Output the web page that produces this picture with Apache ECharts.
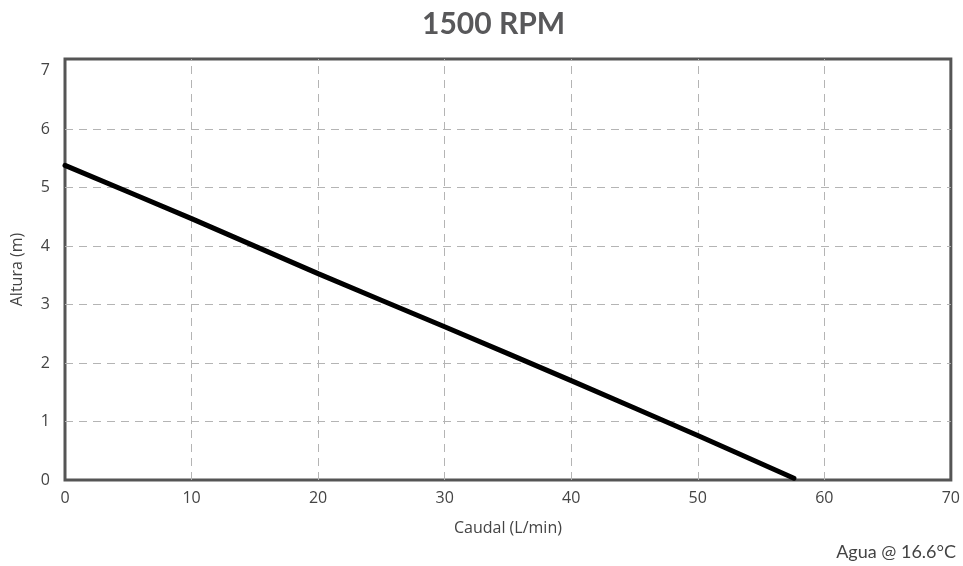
<!DOCTYPE html>
<html><head><meta charset="utf-8">
<script src="https://cdn.jsdelivr.net/npm/echarts@6/dist/echarts.min.js"></script>
<style>html,body{margin:0;padding:0;background:#fff}#c{width:963px;height:566px}</style>
</head><body><div id="c"></div>
<script>
const caudal = [0, 10, 20, 30, 40, 50, 57.6];
const altura = [5.38, 4.47, 3.53, 2.62, 1.7, 0.76, 0.03];
const xGridValues = [10, 20, 30, 40, 50, 60];
const yGridValues = [1, 2, 3, 4, 5, 6];
const titleText = '1500 RPM';
const noteText = 'Agua @ 16.6°C';

const gridLine = {type: [8, 6], color: '#b4b4b4', width: 1};
const chart = echarts.init(document.getElementById('c'));
chart.setOption({
  animation: false,
  title: {
    text: titleText, left: 417, top: 4,
    textStyle: {fontFamily: 'Lato', fontWeight: 'bold', fontSize: 30, color: '#58585a'}
  },
  graphic: [{
    type: 'text', right: 7, top: 543,
    style: {text: noteText, fontFamily: 'Lato', fontSize: 18, fill: '#444'}
  }],
  grid: {left: 65, right: 8, top: 59, bottom: 86, show: true, borderColor: '#555', borderWidth: 3},
  xAxis: {
    type: 'value', min: 0, max: 70, interval: 10,
    name: 'Caudal (L/min)', nameLocation: 'middle', nameGap: 40,
    nameTextStyle: {fontFamily: 'Open Sans', fontSize: 16, color: '#444'},
    axisLine: {show: false}, axisTick: {show: false},
    axisLabel: {margin: 10, fontFamily: 'Open Sans', fontSize: 16, color: '#444'},
    splitLine: {show: false}
  },
  yAxis: {
    type: 'value', min: 0, max: 7.2, interval: 1,
    name: 'Altura (m)', nameLocation: 'middle', nameGap: 40,
    nameTextStyle: {fontFamily: 'Open Sans', fontSize: 16, color: '#444'},
    axisLine: {show: false}, axisTick: {show: false},
    axisLabel: {margin: 15, fontFamily: 'Open Sans', fontSize: 16, color: '#444',
      formatter: v => Number.isInteger(v) ? String(v) : ''},
    splitLine: {show: false}
  },
  series: [{
    type: 'line', data: caudal.map((x, i) => [x, altura[i]]),
    symbol: 'none', smooth: 0.3,
    lineStyle: {color: '#000', width: 5, cap: 'round'},
    markLine: {
      silent: true, symbol: 'none', label: {show: false},
      lineStyle: gridLine,
      data: yGridValues.map(v => ({yAxis: v})).concat(xGridValues.map(v => ({xAxis: v})))
    },
    z: 5
  }]
});
</script></body></html>
